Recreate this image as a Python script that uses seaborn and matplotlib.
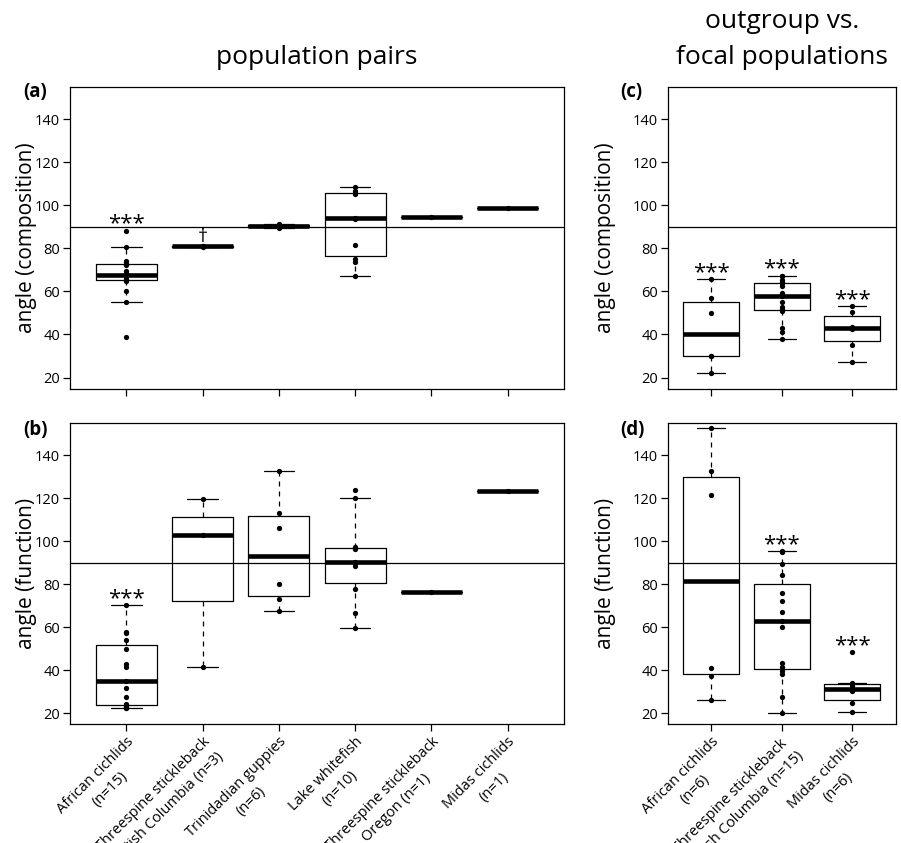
import numpy as np
import pandas as pd
import matplotlib
matplotlib.use("Agg")
import matplotlib.pyplot as plt
import seaborn as sns

# ---------------- data ----------------
pair_labels = ["African cichlids\n(n=15)",
               "Threespine stickleback\nBritish Columbia (n=3)",
               "Trinidadian guppies\n(n=6)",
               "Lake whitefish\n(n=10)",
               "Threespine stickleback\nOregon (n=1)",
               "Midas cichlids\n(n=1)"]
focal_labels = ["African cichlids\n(n=6)",
                "Threespine stickleback\nBritish Columbia (n=15)",
                "Midas cichlids\n(n=6)"]

# (a) angle (composition), population pairs
a_african = [39.0, 55.3, 60.3, 65.0, 65.5, 66.0, 66.8, 67.7, 68.5, 69.5, 72.5, 73.5, 74.0, 80.8, 88.3]
a_stickle_bc = [80.7, 81.0, 81.3]
a_guppies = [89.6, 90.0, 90.2, 90.4, 91.0, 91.6]
a_whitefish = [67.4, 73.8, 74.9, 81.5, 93.8, 94.3, 105.4, 105.6, 106.7, 108.7]
a_stickle_or = [94.5]
a_midas = [99.0]

# (b) angle (function), population pairs
b_african = [22.3, 22.5, 22.9, 23.5, 24.3, 27.6, 31.5, 35.0, 41.5, 42.8, 49.8, 54.0, 57.1, 57.8, 70.2]
b_stickle_bc = [41.4, 102.7, 119.9]
b_guppies = [67.4, 73.0, 80.0, 106.4, 113.3, 132.7]
b_whitefish = [59.4, 66.8, 77.8, 88.5, 89.8, 90.5, 96.3, 97.2, 120.3, 123.9]
b_stickle_or = [76.4]
b_midas = [123.3]

# (c) angle (composition), outgroup vs. focal populations
c_african = [22.0, 30.0, 30.2, 50.0, 57.0, 65.8]
c_stickle_bc = [38.0, 41.3, 42.9, 50.7, 51.7, 53.0, 55.3, 58.1, 59.5, 62.6, 63.8, 64.5, 65.4, 67.0, 67.4]
c_midas = [27.4, 34.9, 42.7, 43.5, 50.3, 53.3]

# (d) angle (function), outgroup vs. focal populations
d_african = [25.9, 37.3, 41.2, 121.7, 132.9, 152.7]
d_stickle_bc = [20.1, 27.6, 38.1, 39.7, 41.5, 43.4, 60.1, 62.9, 67.1, 72.2, 75.7, 84.2, 89.6, 95.0, 95.5]
d_midas = [20.6, 24.5, 30.4, 32.5, 34.1, 48.5]

# significance markers (group index -> symbol)
sig_a = {0: "***", 1: "\u2020"}
sig_b = {0: "***"}
sig_c = {0: "***", 1: "***", 2: "***"}
sig_d = {1: "***", 2: "***"}

# ---------------- style ----------------
sns.set_style("ticks")
plt.rcParams['font.family'] = ['Open Sans', 'DejaVu Sans']
plt.rcParams['axes.linewidth'] = 0.9
plt.rcParams['text.color'] = 'black'
plt.rcParams['axes.labelcolor'] = 'black'
plt.rcParams['xtick.color'] = 'black'
plt.rcParams['ytick.color'] = 'black'

W, H = 901, 843
fig = plt.figure(figsize=(W / 100, H / 100), dpi=100)


def add_axes(left, top, right, bottom):
    return fig.add_axes([left / W, 1 - bottom / H, (right - left) / W, (bottom - top) / H])


ax_a = add_axes(70, 86.7, 564, 388.7)
ax_b = add_axes(70, 422.7, 564, 724.3)
ax_c = add_axes(667.7, 86.7, 895.7, 388.7)
ax_d = add_axes(667.7, 422.7, 895.7, 724.3)


def panel(ax, groups, labels, sig, ylabel, show_xlabels, ylab_x):
    df = pd.DataFrame({
        "group": np.repeat(labels, [len(g) for g in groups]),
        "angle": np.concatenate([np.asarray(g, float) for g in groups]),
    })
    ax.axhline(90, color="black", lw=0.9, zorder=1)
    sns.boxplot(data=df, x="group", y="angle", order=labels, ax=ax,
                fill=False, color="black", linewidth=0.9, width=0.8,
                showfliers=False, whis=1.5,
                whiskerprops=dict(linestyle=(0, (4, 4))),
                medianprops=dict(linewidth=3.3))
    sns.stripplot(data=df, x="group", y="angle", order=labels, ax=ax,
                  jitter=False, color="black", size=3.8, zorder=4)
    n = len(labels)
    ax.set_xlim(-0.5 - 0.04 * n, n - 0.5 + 0.04 * n)
    ax.set_ylim(14.8, 155.2)
    ax.set_yticks([20, 40, 60, 80, 100, 120, 140])
    ax.set_xticks(range(n))
    if show_xlabels:
        ax.set_xticklabels(labels, rotation=45, ha="right", va="top",
                           rotation_mode="anchor", multialignment="center",
                           fontsize=9.6, linespacing=1.45)
    else:
        ax.set_xticklabels([])
    ax.set_xlabel("")
    ax.set_ylabel(ylabel, fontsize=15)
    ax.yaxis.set_label_coords(ylab_x, 0.5)
    ax.tick_params(axis="both", direction="out", length=5, width=0.9,
                   labelsize=10.5, pad=2, colors="black")
    for s in ax.spines.values():
        s.set_visible(True)
        s.set_linewidth(0.9)
        s.set_color("black")
    for i, sym in sig.items():
        top = max(groups[i])
        if sym == "***":
            ax.text(i, top + 0.5, sym, ha="center", va="baseline", fontsize=16)
        else:
            ax.text(i, top + 1.5, sym, ha="center", va="baseline", fontsize=14)


panel(ax_a, [a_african, a_stickle_bc, a_guppies, a_whitefish, a_stickle_or, a_midas],
      pair_labels, sig_a, "angle (composition)", False, -0.066)
panel(ax_b, [b_african, b_stickle_bc, b_guppies, b_whitefish, b_stickle_or, b_midas],
      pair_labels, sig_b, "angle (function)", True, -0.066)
panel(ax_c, [c_african, c_stickle_bc, c_midas],
      focal_labels, sig_c, "angle (composition)", False, -0.225)
panel(ax_d, [d_african, d_stickle_bc, d_midas],
      focal_labels, sig_d, "angle (function)", True, -0.225)

# titles
fig.text(317 / W, 1 - 57 / H, "population pairs", ha="center", va="center", fontsize=19)
fig.text(782 / W, 1 - 21 / H, "outgroup vs.", ha="center", va="center", fontsize=19)
fig.text(782 / W, 1 - 57 / H, "focal populations", ha="center", va="center", fontsize=19)

# panel labels
for lab, x, y in [("(a)", 23, 92), ("(b)", 23, 430), ("(c)", 620, 92), ("(d)", 620, 430)]:
    fig.text(x / W, 1 - y / H, lab, ha="left", va="center", fontsize=13.5, fontweight="bold")

fig.savefig("out.png", dpi=100)
